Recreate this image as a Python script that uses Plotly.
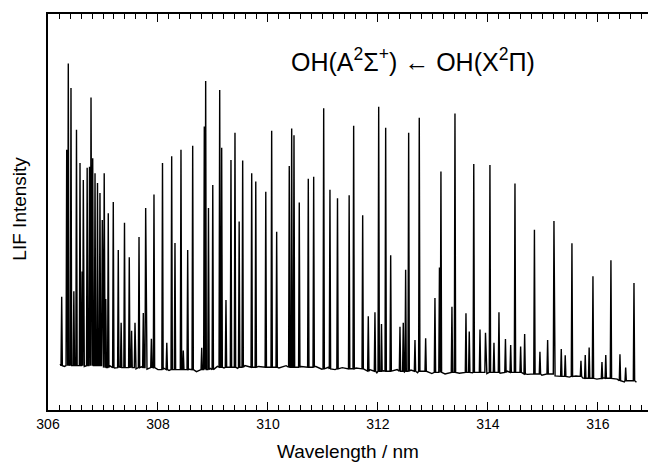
import numpy as np
import plotly.graph_objects as go

# baseline readings (wavelength nm, LIF intensity arb. units)
base_nm = [306.22, 306.30, 306.40, 306.48, 306.57, 306.66, 306.75, 306.84, 306.93, 307.02,
           307.12, 307.21, 307.30, 307.40, 307.50, 307.60, 307.70, 307.80, 307.90, 308.00,
           308.10, 308.20, 308.32, 308.45, 308.57, 308.70, 308.82, 308.95, 309.08, 309.20,
           309.32, 309.45, 309.58, 309.70, 309.83, 309.95, 310.08, 310.20, 310.33, 310.46,
           310.60, 310.72, 310.85, 310.98, 311.10, 311.22, 311.35, 311.48, 311.60, 311.72,
           311.85, 311.98, 312.10, 312.22, 312.35, 312.48, 312.60, 312.72, 312.85, 312.98,
           313.10, 313.22, 313.35, 313.48, 313.60, 313.72, 313.85, 313.98, 314.10, 314.22,
           314.35, 314.48, 314.60, 314.72, 314.85, 314.98, 315.10, 315.22, 315.35, 315.48,
           315.60, 315.72, 315.85, 315.98, 316.10, 316.22, 316.35, 316.48, 316.60, 316.70]
base_int = [11.6, 11.0, 11.5, 10.8, 11.4, 11.0, 11.6, 10.9, 11.3, 10.7,
            11.2, 10.6, 11.1, 10.5, 11.0, 10.4, 10.9, 10.3, 10.8, 10.2,
            10.6, 10.0, 10.5, 9.8, 10.3, 9.7, 10.2, 10.5, 11.0, 10.6,
            11.1, 10.5, 11.2, 10.7, 11.0, 10.4, 11.1, 10.6, 11.2, 10.5,
            11.0, 10.6, 11.1, 10.3, 10.8, 10.2, 10.7, 10.1, 10.6, 9.8,
            10.2, 9.4, 9.9, 9.5, 10.2, 9.6, 10.1, 9.4, 9.9, 9.2,
            9.7, 9.1, 9.8, 9.3, 9.9, 9.4, 9.8, 9.2, 9.7, 9.3,
            9.8, 9.2, 9.5, 9.0, 9.4, 8.8, 9.1, 8.6, 8.9, 8.3,
            8.6, 8.1, 8.4, 7.8, 8.1, 7.5, 7.8, 7.1, 7.4, 7.0]

# rotational lines: position, peak top, level at the foot
line_nm = [306.249, 306.340, 306.369, 306.418, 306.470, 306.518, 306.582, 306.620, 306.642, 306.712,
           306.755, 306.782, 306.813, 306.855, 306.900, 306.945, 306.987, 307.022, 307.050, 307.096,
           307.187, 307.278, 307.330, 307.391, 307.478, 307.520, 307.582, 307.655, 307.733, 307.776,
           307.880, 307.927, 308.082, 308.160, 308.249, 308.309, 308.418, 308.460, 308.540, 308.631,
           308.795, 308.842, 308.867, 308.918, 308.996, 309.122, 309.158, 309.236, 309.327, 309.400,
           309.476, 309.540, 309.704, 309.778, 309.960, 310.067, 310.158, 310.387, 310.431, 310.473,
           310.569, 310.733, 310.831, 311.013, 311.127, 311.264, 311.476, 311.558, 311.722, 311.824,
           311.945, 312.013, 312.064, 312.140, 312.231, 312.400, 312.460, 312.503, 312.558, 312.673,
           312.751, 312.867, 313.036, 313.118, 313.145, 313.345, 313.400, 313.600, 313.660, 313.742,
           313.855, 313.955, 314.036, 314.109, 314.200, 314.318, 314.413, 314.491, 314.594, 314.667,
           314.845, 314.945, 315.085, 315.200, 315.333, 315.405, 315.527, 315.691, 315.769, 315.840,
           315.909, 316.073, 316.142, 316.236, 316.400, 316.504, 316.655]
line_top = [28.6, 65.7, 87.5, 81.3, 30.0, 70.8, 62.4, 35.0, 58.1, 61.2,
            61.4, 78.9, 63.6, 59.8, 57.3, 54.8, 48.0, 59.8, 28.0, 49.7,
            52.5, 40.4, 22.0, 47.3, 38.6, 20.0, 22.0, 43.7, 24.5, 51.0,
            18.0, 54.4, 62.4, 17.0, 64.1, 42.2, 65.7, 15.0, 40.4, 66.7,
            15.7, 71.6, 83.1, 51.0, 56.8, 80.8, 66.2, 27.8, 63.1, 70.0,
            47.6, 63.0, 59.8, 57.7, 55.1, 70.5, 45.0, 61.6, 71.1, 69.4,
            52.4, 58.4, 58.9, 76.2, 55.6, 53.5, 54.2, 71.8, 49.2, 23.7,
            24.7, 76.6, 21.7, 71.3, 39.1, 21.0, 22.0, 35.4, 70.0, 17.7,
            73.8, 18.1, 28.3, 36.0, 60.2, 26.1, 74.9, 24.4, 19.8, 62.1,
            20.3, 19.5, 61.9, 17.0, 24.7, 17.9, 16.4, 57.2, 16.0, 19.2,
            45.5, 14.7, 17.7, 47.7, 15.4, 13.8, 42.1, 12.4, 13.9, 15.8,
            33.8, 12.1, 13.9, 37.8, 14.1, 10.7, 32.1]
line_foot = [11.2] * 17 + [10.7] * 15 + [10.2] * 13 + [10.8] * 18 + [10.4] * 6 \
    + [9.8] * 13 + [9.5] * 17 + [9.1] * 5 + [8.5] * 4 + [8.0] * 6 + [7.4] * 3

# merge baseline and line profiles into one trace
hw = 0.012
px, py = [], []
for w, y in zip(base_nm, base_int):
    if min(abs(w - c) for c in line_nm) > hw * 1.5:
        px.append(w)
        py.append(y)
for w, t, f in zip(line_nm, line_top, line_foot):
    px += [w - hw, w, w + hw]
    py += [f, t, f]
order = np.argsort(px)
spec_x = np.array(px)[order]
spec_y = np.array(py)[order]

fig = go.Figure()
fig.add_trace(go.Scatter(x=spec_x, y=spec_y, mode='lines',
                         line=dict(color='black', width=1.4), showlegend=False,
                         hoverinfo='skip'))

font = 'Liberation Sans, Arial, sans-serif'
fig.update_layout(
    width=650, height=464,
    margin=dict(l=48, r=2, t=14, b=54),
    paper_bgcolor='white', plot_bgcolor='white',
    font=dict(family=font, color='black'),
    xaxis=dict(range=[306, 316.91], showline=True, linecolor='black', linewidth=1.8,
               mirror='ticks', ticks='inside', ticklen=8, tickwidth=1.2, tickcolor='black',
               tick0=306, dtick=2, showgrid=False, zeroline=False,
               tickfont=dict(size=14, family=font),
               minor=dict(ticks='inside', ticklen=5, tickwidth=1, tickcolor='black',
                          dtick=0.2, tick0=306, showgrid=False)),
    yaxis=dict(range=[0, 100], showline=True, linecolor='black', linewidth=1.8,
               showticklabels=False, ticks='', showgrid=False, zeroline=False),
    annotations=[
        dict(text='OH(A<sup>2</sup>Σ<sup>+</sup>) ← OH(X<sup>2</sup>Π)', x=0.608, y=0.885,
             xref='paper', yref='paper', showarrow=False, font=dict(size=25),
             yanchor='middle'),
        dict(text='Wavelength / nm', x=0.5, y=-0.106, xref='paper', yref='paper',
             showarrow=False, font=dict(size=19), yanchor='middle'),
        dict(text='LIF Intensity', x=-0.047, y=0.508, xref='paper', yref='paper',
             showarrow=False, textangle=-90, font=dict(size=19), xanchor='center'),
    ],
)

fig.write_html('out.html', config={'displayModeBar': False},
               post_script="document.body.style.margin='0';")
